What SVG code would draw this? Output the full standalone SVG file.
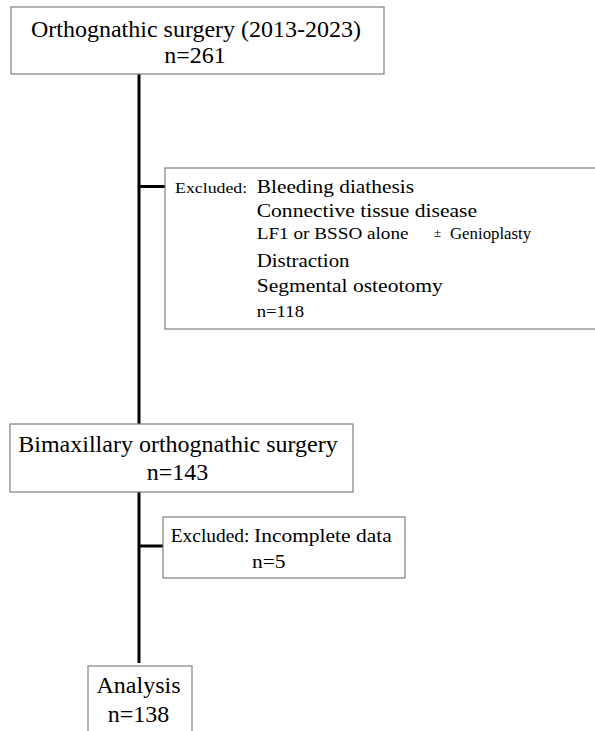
<svg xmlns="http://www.w3.org/2000/svg" width="595" height="731" viewBox="0 0 595 731">
<style>
.box{fill:#fff;stroke:#7f7f7f;stroke-width:1.2}
.ln{stroke:#000;stroke-width:3;fill:none}
</style>
<rect width="595" height="731" fill="#fff"/>
<g id="connectors">
<line class="ln" x1="139" y1="74" x2="139" y2="424"/>
<line class="ln" x1="139" y1="186.5" x2="165" y2="186.5"/>
<line class="ln" x1="139" y1="492" x2="139" y2="663"/>
<line class="ln" x1="139" y1="546" x2="163" y2="546"/>
</g>
<g id="n1">
<rect class="box" x="11" y="7" width="373" height="67"/>
<text font-family="Liberation Serif" font-size="24" x="196" y="37.3" text-anchor="middle">Orthognathic surgery (2013-2023)</text>
<text font-family="Liberation Serif" font-size="24" x="195" y="63.3" text-anchor="middle">n=261</text>
</g>
<g id="n2">
<rect class="box" x="165" y="168" width="440" height="161"/>
<text font-family="Liberation Serif" font-size="15.5" transform="matrix(1.15 0 0 1 175 192.7)">Excluded:</text>
<text font-family="Liberation Serif" font-size="19" transform="matrix(1.125 0 0 1 256.7 192.7)">Bleeding diathesis</text>
<text font-family="Liberation Serif" font-size="19" transform="matrix(1.135 0 0 1 256.7 216.7)">Connective tissue disease</text>
<text font-family="Liberation Serif" font-size="16" transform="matrix(1.2 0 0 1 256.7 239)">LF1 or BSSO alone</text>
<text font-family="Liberation Serif" font-size="13" x="434" y="237">±</text>
<text font-family="Liberation Serif" font-size="16" transform="matrix(1.05 0 0 1 450 239)">Genioplasty</text>
<text font-family="Liberation Serif" font-size="19" transform="matrix(1.1 0 0 1 256.7 266.7)">Distraction</text>
<text font-family="Liberation Serif" font-size="19" transform="matrix(1.134 0 0 1 256.7 291.7)">Segmental osteotomy</text>
<text font-family="Liberation Serif" font-size="16" transform="matrix(1.17 0 0 1 256.7 316.7)">n=118</text>
</g>
<g id="n3">
<rect class="box" x="10" y="424" width="343" height="68"/>
<text font-family="Liberation Serif" font-size="24" x="178" y="451.7" text-anchor="middle">Bimaxillary orthognathic surgery</text>
<text font-family="Liberation Serif" font-size="24" x="177.5" y="480" text-anchor="middle">n=143</text>
</g>
<g id="n4">
<rect class="box" x="163" y="517" width="242" height="61"/>
<text font-family="Liberation Serif" font-size="18" transform="matrix(1.08 0 0 1 170.7 541.7)">Excluded:</text>
<text font-family="Liberation Serif" font-size="19" transform="matrix(1.13 0 0 1 254 541.7)">Incomplete data</text>
<text font-family="Liberation Serif" font-size="19" transform="matrix(1.13 0 0 1 252 567.7)">n=5</text>
</g>
<g id="n5">
<rect class="box" x="88" y="666" width="104" height="80"/>
<text font-family="Liberation Serif" font-size="24" x="138.5" y="693.3" text-anchor="middle">Analysis</text>
<text font-family="Liberation Serif" font-size="24" x="138.5" y="721.7" text-anchor="middle">n=138</text>
</g>
</svg>
